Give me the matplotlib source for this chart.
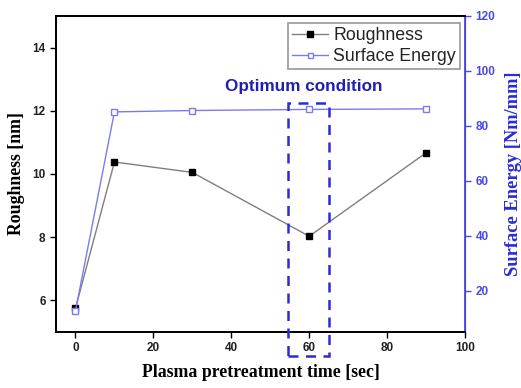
import numpy as np
import matplotlib
matplotlib.use("Agg")
import matplotlib.pyplot as plt
from matplotlib.patches import Rectangle

# data
time_sec = [0, 10, 30, 60, 90]
roughness = [5.75, 10.38, 10.05, 8.03, 10.67]
surface_energy = [12.7, 85.1, 85.6, 86.0, 86.2]

x_ticks = [0, 20, 40, 60, 80, 100]
left_ticks = [6, 8, 10, 12, 14]
right_ticks = [20, 40, 60, 80, 100, 120]

blue_axis = '#4a4ae6'
blue_line = '#7b7bf0'
blue_box = '#2a2ad8'
blue_text = '#1f1fb0'

plt.rcParams['font.family'] = ['Liberation Sans', 'DejaVu Sans']

fig = plt.figure(figsize=(5.21, 3.88), dpi=100)
ax = fig.add_axes([0.1075, 0.1443, 0.785, 0.8145])
ax2 = ax.twinx()

ax.plot(time_sec, roughness, color='#7f7f7f', lw=1, marker='s', ms=5,
        mfc='black', mec='black', label='Roughness', zorder=3)
ax2.plot(time_sec, surface_energy, color=blue_line, lw=1, marker='s', ms=4.5,
         mfc='white', mec=blue_line, mew=1, label='Surface Energy', zorder=3)

ax.set_xlim(-5, 100)
ax.set_ylim(5, 15)
ax2.set_ylim(5, 120)
ax.set_xticks(x_ticks)
ax.set_yticks(left_ticks)
ax2.set_yticks(right_ticks)

ax.tick_params(direction='out', length=4, width=1, labelsize=8.5,
               labelcolor='#222222')
for lab in ax.get_xticklabels() + ax.get_yticklabels():
    lab.set_fontweight('bold')
ax2.tick_params(direction='out', length=4, width=1, labelsize=8.5,
                colors=blue_axis)
for lab in ax2.get_yticklabels():
    lab.set_fontweight('bold')

for s in ['left', 'bottom', 'top']:
    ax.spines[s].set_linewidth(1.3)
ax2.spines['right'].set_color(blue_axis)
ax2.spines['right'].set_linewidth(1.3)
ax2.spines['left'].set_linewidth(1.3)
ax2.spines['top'].set_linewidth(1.3)
ax2.spines['bottom'].set_linewidth(1.3)

serif = ['Liberation Serif', 'DejaVu Serif']
ax.set_xlabel('Plasma pretreatment time [sec]', family=serif,
              fontweight='bold', fontsize=12.8, labelpad=7)
ax.set_ylabel('Roughness [nm]', family=serif, fontweight='bold',
              fontsize=12.8, labelpad=5)
ax2.set_ylabel('Surface Energy [Nm/mm]', family=serif, fontweight='bold',
               fontsize=13.3, color=blue_box, labelpad=7)

# optimum condition box
ax2.add_patch(Rectangle((54.5, -3.6), 10.5, 92.0, fill=False,
                        ec=blue_box, lw=1.8, ls=(0, (4, 3)),
                        clip_on=False, zorder=4))
ax2.text(58.6, 94.2, 'Optimum condition', color=blue_text,
         fontweight='bold', fontsize=12.3, ha='center', va='center')

h1, l1 = ax.get_legend_handles_labels()
h2, l2 = ax2.get_legend_handles_labels()
leg = ax2.legend(h1 + h2, l1 + l2, loc='upper right', fontsize=12.8,
                 frameon=True, fancybox=False, edgecolor='#888888',
                 handlelength=2.0, handletextpad=0.3, borderpad=0.25,
                 labelspacing=0.2, markerscale=0.8, borderaxespad=0,
                 bbox_to_anchor=(0.988, 0.978))
leg.get_frame().set_linewidth(1.3)
for t in leg.get_texts():
    t.set_color('#222222')

fig.savefig('out.png', dpi=100)
